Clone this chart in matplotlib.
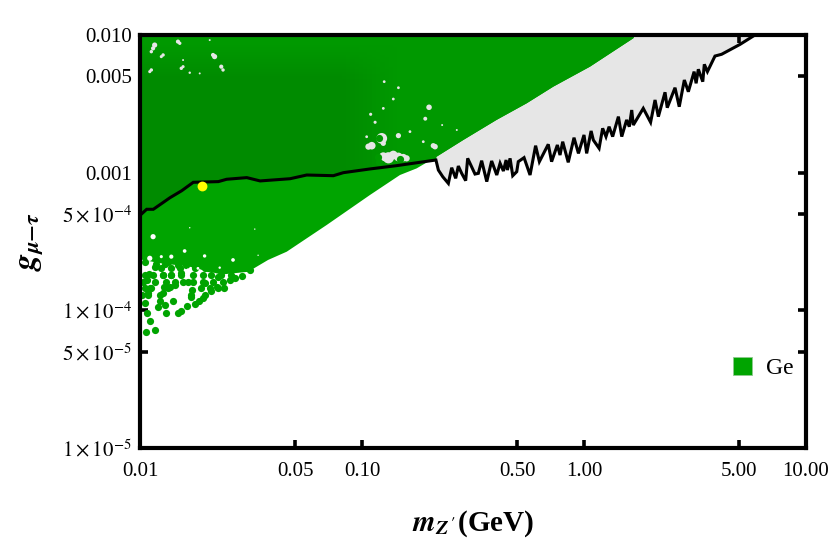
#!/usr/bin/env python3
# g_mu-tau vs m_Z' exclusion plot, Ge region with scatter edge
# all values, stored as log10

import numpy as np
import matplotlib
matplotlib.use("Agg")
import matplotlib.pyplot as plt
from matplotlib.colors import to_rgb
from matplotlib.patches import Patch, Polygon

plt.rcParams["font.family"] = ["Liberation Serif", "DejaVu Serif"]
plt.rcParams["mathtext.fontset"] = "stix"

GREY = "#e6e6e6"
DARK = "#008b00"
MID = "#009900"
LIGHT = "#00a400"

# black limit curve: smooth left part, then noisy right part
line_lx_left = [-2.0, -1.97, -1.94, -1.865, -1.812, -1.76, -1.647, -1.61, -1.519, -1.459,
                -1.324, -1.249, -1.129, -1.084, -0.964, -0.844, -0.667]
line_ly_left = [-3.31, -3.266, -3.266, -3.182, -3.131, -3.07, -3.065, -3.048, -3.036, -3.06,
                -3.044, -3.017, -3.022, -3.0, -2.973, -2.949, -2.908]
line_lx_right = [-0.656, -0.636, -0.611, -0.596, -0.578, -0.566, -0.551, -0.533, -0.524, -0.491,
                 -0.476, -0.461, -0.438, -0.416, -0.393, -0.378, -0.363, -0.351, -0.345, -0.333,
                 -0.321, -0.303, -0.296, -0.27, -0.243, -0.218, -0.201, -0.161, -0.146, -0.12,
                 -0.108, -0.096, -0.071, -0.045, -0.025, 0.0, 0.012, 0.032, 0.042, 0.068,
                 0.084, 0.099, 0.113, 0.129, 0.155, 0.17, 0.192, 0.204, 0.215, 0.222,
                 0.267, 0.3, 0.32, 0.335, 0.365, 0.375, 0.41, 0.429, 0.452, 0.47,
                 0.496, 0.505, 0.515, 0.535, 0.542, 0.556, 0.59, 0.62, 0.703, 0.77]
line_ly_right = [-2.981, -3.03, -3.078, -2.964, -3.041, -2.952, -3.005, -3.058, -2.896, -3.01,
                 -3.005, -2.913, -3.065, -2.915, -3.017, -2.932, -2.988, -2.908, -2.981, -2.896,
                 -3.022, -2.993, -2.92, -2.891, -3.017, -2.804, -2.92, -2.794, -2.92, -2.799,
                 -2.872, -2.775, -2.925, -2.746, -2.86, -2.726, -2.86, -2.697, -2.763, -2.823,
                 -2.678, -2.738, -2.666, -2.738, -2.593, -2.738, -2.617, -2.666, -2.545, -2.654,
                 -2.533, -2.634, -2.472, -2.593, -2.416, -2.528, -2.383, -2.521, -2.327, -2.412,
                 -2.266, -2.351, -2.249, -2.339, -2.213, -2.266, -2.153, -2.14, -2.068, -2.0]

# lower edge of the solid green area
edge_lx = [-2.0, -1.9, -1.784, -1.634, -1.513, -1.423, -1.339, -1.159, -0.964, -0.829,
           -0.754, -0.664, -0.544, -0.394, -0.258, -0.138, 0.027, 0.222, 0.23]
edge_ly = [-3.63, -3.66, -3.68, -3.74, -3.72, -3.634, -3.574, -3.38, -3.162, -3.017,
           -2.969, -2.884, -2.763, -2.617, -2.496, -2.375, -2.23, -2.024, -2.0]

# separate dots below the solid area
dot_lx = [-1.973, -1.931, -1.953, -1.967, -1.976, -1.881, -1.886, -1.919, -1.911, -1.896,
          -1.853, -1.829, -1.814, -1.787, -1.754, -1.736, -1.716, -1.964, -1.952, -1.991,
          -1.967, -1.959, -1.934, -1.892, -1.866, -1.841, -1.769, -1.766, -1.679, -1.652,
          -1.623, -1.596, -1.574, -1.539, -1.506, -1.709, -1.784, -1.814, -1.859, -1.896,
          -1.934, -1.979, -1.829, -1.754, -1.694, -1.649, -1.874,
          -1.979, -1.926, -1.889, -1.829, -1.791, -1.754, -1.716, -1.671,
          -1.904, -1.859, -1.821, -1.709, -1.671, -1.604, -1.559, -1.514,
          -1.941, -1.896, -1.859, -1.814, -1.761, -1.716, -1.679, -1.634, -1.589,
          -1.986, -1.881, -1.844, -1.806, -1.761, -1.716, -1.671, -1.626,
          -1.979, -1.956, -1.874, -1.724, -1.686, -1.649,
          -1.964, -1.911, -1.769, -1.709]
dot_ly = [-4.157, -4.14, -4.075, -4.022, -3.949, -4.022, -3.961, -3.973, -3.932, -3.876,
          -3.932, -4.017, -4.002, -3.971, -3.954, -3.932, -3.908, -3.876, -3.84, -3.888,
          -3.78, -3.736, -3.792, -3.828, -3.833, -3.816, -3.901, -3.852, -3.857, -3.828,
          -3.84, -3.78, -3.763, -3.748, -3.707, -3.804, -3.792, -3.731, -3.743, -3.743,
          -3.683, -3.743, -3.622, -3.695, -3.695, -3.755, -3.646,
          -3.652, -3.66, -3.665, -3.67, -3.67, -3.675, -3.68, -3.69,
          -3.695, -3.695, -3.695, -3.695, -3.695, -3.695, -3.695, -3.695,
          -3.743, -3.743, -3.743, -3.743, -3.743, -3.743, -3.743, -3.743, -3.743,
          -3.792, -3.792, -3.792, -3.792, -3.792, -3.792, -3.792, -3.792,
          -3.84, -3.84, -3.84, -3.84, -3.84, -3.84,
          -3.888, -3.888, -3.888, -3.888]

# dots on top of the bare patch near 0.15 GeV
patch_lx = [-0.923, -0.929, -0.923, -0.83]
patch_ly = [-2.746, -2.884, -2.92, -2.90]

# holes in the green, log m, log g, size in points^2
grey_lx = [-0.956, -0.911, -0.881, -0.836, -0.799, -0.904, -0.836, -0.679, -0.698, -0.715,
           -0.941, -0.961, -0.904, -0.859, -0.836, -0.9, -0.979, -0.784, -0.724, -0.639,
           -0.573, -1.934, -1.949, -1.829, -1.896, -1.664, -1.634, -1.814, -1.949, -1.776,
           -1.731, -1.686, -1.806,
           -1.941, -1.671, -1.626, -1.821, -1.904, -1.806, -1.956,
           -0.904, -0.859, -0.814, -0.971, -0.671]
grey_ly = [-2.804, -2.751, -2.892, -2.886, -2.896, -2.787, -2.731, -2.804, -2.525, -2.608,
           -2.634, -2.576, -2.533, -2.465, -2.383, -2.339, -2.739, -2.702, -2.775, -2.654,
           -2.690, -2.073, -2.121, -2.048, -2.145, -2.157, -2.23, -2.242, -2.254, -2.274,
           -2.279, -2.037, -2.182,
           -2.097, -2.145, -2.254, -2.06, -2.157, -2.23, -2.266,
           -2.884, -2.872, -2.891, -2.811, -2.811]
grey_s = [30, 60, 65, 40, 20, 14, 14, 14, 16, 8,
          5, 5, 4, 4, 4, 4, 4, 4, 4, 2,
          2, 14, 6, 9, 6, 14, 9, 6, 6, 3,
          2, 2, 2,
          9, 9, 6, 6, 5, 5, 5,
          40, 40, 30, 20, 16]

white_lx = [-1.941, -1.956, -1.904, -1.859, -1.799, -1.709, -1.581, -1.784, -1.739, -1.641, -1.739,
            -1.468, -1.776, -1.483]
white_ly = [-3.465, -3.622, -3.61, -3.61, -3.569, -3.605, -3.634, -3.707, -3.695, -3.69, -3.767,
            -3.6, -3.4, -3.41]
white_s = [14, 14, 5, 9, 7, 6, 7, 5, 4, 3, 4, 1, 1, 1]

point_lx = [-1.721]
point_ly = [-3.097]

xticks = [0.01, 0.05, 0.1, 0.5, 1, 5, 10]
xtick_labels = ["0.01", "0.05", "0.10", "0.50", "1.00", "5.00", "10.00"]
yticks = [1e-5, 5e-5, 1e-4, 5e-4, 1e-3, 5e-3, 1e-2]
ytick_labels = [r"$1\times10^{-5}$", r"$5\times10^{-5}$", r"$1\times10^{-4}$", r"$5\times10^{-4}$",
                "0.001", "0.005", "0.010"]


def p(v):
    return 10.0 ** np.asarray(v, dtype=float)


def main():
    fig = plt.figure(figsize=(8.31, 5.44), dpi=100)
    ax = fig.add_axes([140 / 831, 1 - 448 / 544, 666 / 831, 413 / 544])
    ax.set_xscale("log")
    ax.set_yscale("log")
    ax.set_xlim(0.01, 10)
    ax.set_ylim(1e-5, 1e-2)

    line_lx = line_lx_left + line_lx_right
    line_ly = line_ly_left + line_ly_right

    # grey allowed band, everything above the limit curve
    ax.fill(p(line_lx + [0.77, -2.0]), p(line_ly + [-2.0, -2.0]), color=GREY, lw=0, zorder=1)

    # light green below the curve, mid above
    ax.fill(p(edge_lx + [-2.0]), p(edge_ly + [-2.0]), color=LIGHT, lw=0, zorder=2)
    upper_x = p(line_lx_left + edge_lx[11:] + [-2.0])
    upper_y = p(line_ly_left + edge_ly[11:] + [-2.0])
    ax.fill(upper_x, upper_y, color=MID, lw=0, zorder=3)

    # darker shade where the points pile up, soft towards top and right
    gx = np.logspace(-2, 0.3, 120)
    gy = np.logspace(-3.4, -2, 80)
    shade = np.zeros((79, 119, 4))
    shade[..., :3] = to_rgb(DARK)
    cx = np.log10(gx[:-1])
    cy = np.log10(gy[:-1])
    right_fade = np.clip((-0.85 - cx) / 0.25, 0, 1)
    top_fade = np.clip((-2.08 - cy) / 0.25, 0, 1)
    shade[..., 3] = np.outer(top_fade, right_fade)
    mesh = ax.pcolormesh(gx, gy, shade, shading="flat", lw=0, zorder=3.5, rasterized=True)
    clip = Polygon(np.column_stack([upper_x, upper_y]), transform=ax.transData, fc="none", ec="none")
    ax.add_patch(clip)
    mesh.set_clip_path(clip)

    ax.scatter(p(dot_lx), p(dot_ly), s=27, color=LIGHT, lw=0, zorder=2)
    ax.scatter(p(grey_lx), p(grey_ly), s=grey_s, color=GREY, lw=0, zorder=4)
    ax.scatter(p(white_lx), p(white_ly), s=white_s, color="white", lw=0, zorder=4)
    ax.scatter(p(patch_lx), p(patch_ly), s=27, color=MID, lw=0, zorder=4)

    ax.plot(p(line_lx), p(line_ly), color="black", lw=2.2, solid_joinstyle="miter", zorder=5)
    ax.scatter(p(point_lx), p(point_ly), s=50, color="#ffff00", lw=0, zorder=6)

    ax.set_xticks(xticks, xtick_labels)
    ax.set_yticks(yticks, ytick_labels)
    ax.minorticks_off()
    ax.tick_params(which="major", direction="in", length=5.5, width=2.6, top=True, right=True,
                   labelsize=15, zorder=8)
    ax.tick_params(axis="x", pad=10)
    ax.tick_params(axis="y", pad=6)
    for s in ax.spines.values():
        s.set_linewidth(3.0)
        s.set_zorder(9)

    ax.set_xlabel(r"$\mathbfit{m}_{\mathbfit{Z}\,\mathbf{'}}$(GeV)", fontsize=21, fontweight="bold", labelpad=20)
    ax.set_ylabel(r"$\mathbfit{g}_{\mathbfit{\mu}\mathbf{-}\mathbfit{\tau}}$", fontsize=23, fontweight="bold", labelpad=12)

    ax.legend(handles=[Patch(facecolor=LIGHT, edgecolor="#8fc98f", lw=0.6, label="Ge")],
              loc="center left", bbox_to_anchor=(0.89, 0.194), frameon=False, fontsize=17,
              borderpad=0, borderaxespad=0, handlelength=0.8, handleheight=0.85, handletextpad=0.6)

    fig.savefig("out.png", dpi=100)


if __name__ == "__main__":
    main()
